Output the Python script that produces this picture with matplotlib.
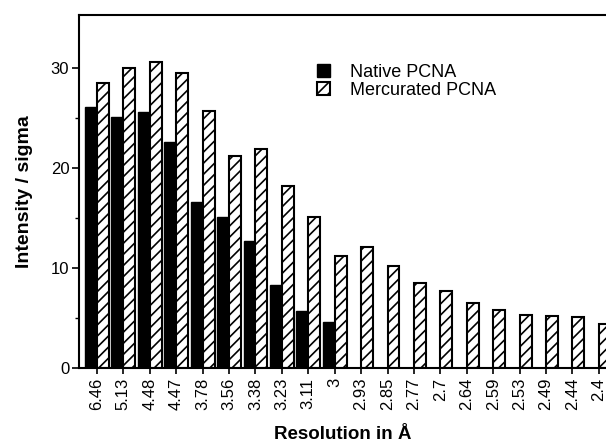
import numpy as np
import matplotlib
matplotlib.use('Agg')
import matplotlib.pyplot as plt
from matplotlib.ticker import MultipleLocator, FixedLocator

plt.rcParams['font.family'] = ['Liberation Sans', 'DejaVu Sans']
plt.rcParams['hatch.linewidth'] = 1.2

# data
resolution = ['6.46', '5.13', '4.48', '4.47', '3.78', '3.56', '3.38', '3.23', '3.11', '3',
              '2.93', '2.85', '2.77', '2.7', '2.64', '2.59', '2.53', '2.49', '2.44', '2.4']
native = [26.1, 25.1, 25.6, 22.6, 16.6, 15.1, 12.7, 8.3, 5.7, 4.6,
          0, 0, 0, 0, 0, 0, 0, 0, 0, 0]
mercurated = [28.5, 30.0, 30.6, 29.5, 25.7, 21.2, 21.9, 18.2, 15.1, 11.2,
              12.1, 10.2, 8.5, 7.7, 6.5, 5.8, 5.35, 5.25, 5.1, 4.4]

x = np.arange(len(resolution))
w = 0.45

fig = plt.figure(figsize=(6.06, 4.44), dpi=100)
ax = fig.add_axes([79/606, 1 - 368/444, 1 - 79/606, (368 - 15)/444])

ax.bar(x - w/2, native, w, color='black', edgecolor='black', linewidth=1.0,
       label='Native PCNA')
ax.bar(x + w/2, mercurated, w, color='white', edgecolor='black', linewidth=1.5,
       hatch='///', label='Mercurated PCNA')

ax.set_xlim(-0.68, 19.27)
ax.set_ylim(0, 35.3)

ax.set_xticks(x)
ax.set_xticklabels(resolution, rotation=90, fontsize=12)
ax.yaxis.set_major_locator(MultipleLocator(10))
ax.yaxis.set_minor_locator(FixedLocator([5, 15, 25]))
ax.tick_params(axis='y', which='major', length=5, width=1.2, labelsize=12, direction='out', pad=2)
ax.tick_params(axis='y', which='minor', length=3, width=1.0)
ax.tick_params(axis='x', length=4, width=1.2, direction='out', pad=3)

ax.spines['right'].set_visible(False)
for s in ['left', 'top', 'bottom']:
    ax.spines[s].set_linewidth(1.5)

ax.set_ylabel('Intensity / sigma', fontsize=14, fontweight='bold', labelpad=13)
ax.set_xlabel('Resolution in Å', fontsize=13.5, fontweight='bold', labelpad=11)

ax.legend(loc='upper left', bbox_to_anchor=(0.452, 0.862), frameon=False,
          fontsize=13, handlelength=0.7, handleheight=0.7, handletextpad=1.1,
          labelspacing=0.05, borderpad=0, borderaxespad=0)

fig.savefig('out.png', dpi=100)
